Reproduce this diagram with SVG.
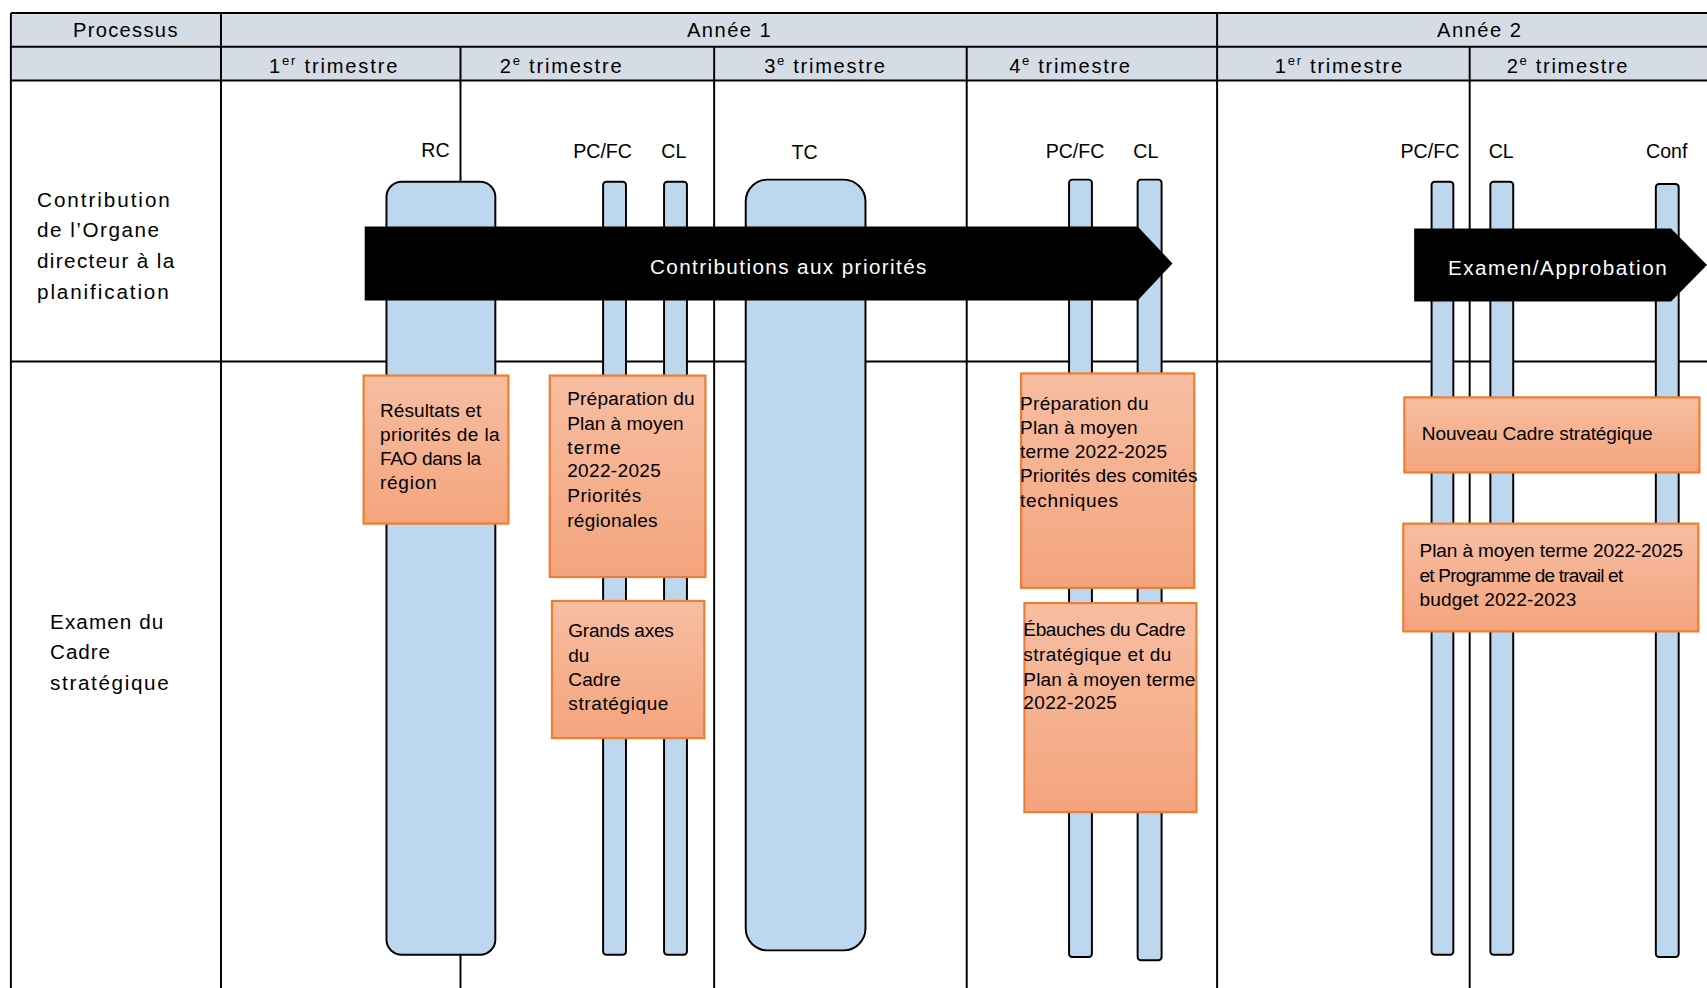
<svg xmlns="http://www.w3.org/2000/svg" width="1707" height="988" viewBox="0 0 1707 988">
<defs>
<linearGradient id="og" x1="0" y1="0" x2="0" y2="1">
<stop offset="0" stop-color="#F7BEA2"/>
<stop offset="1" stop-color="#F4A47D"/>
</linearGradient>
<style>
.t{font-family:"Liberation Sans","Open Sans",sans-serif;fill:#000;}
.h{font-size:18.5px;}
.lb{font-size:19px;}
.sl{font-size:18px;text-anchor:middle;}
.bx{font-size:17.5px;}
.w{fill:#fff;font-size:19px;}
.grid{stroke:#000;stroke-width:1.8;fill:none;}
.bar{fill:#BDD7EE;stroke:#000;stroke-width:1.8;}
.box{fill:url(#og);stroke:#ED7D31;stroke-width:2;}
.arr{fill:#000;}
</style>
</defs>
<rect x="0" y="0" width="1707" height="988" fill="#fff"/>
<g transform="scale(1.08865)">
<g id="table">
<rect x="10" y="12" width="1580" height="62" fill="#D6DCE5"/>
<path class="grid" d="M10 12H1590M10 43H1590M10 74H1590M10 332H1590M10 12V920M203 12V920M423 43V920M656 43V920M888 43V920M1118 12V920M1350 43V920"/>
<text class="t h" x="67" y="34" textLength="96">Processus</text>
<text class="t h" x="631" y="34" textLength="77">Année 1</text>
<text class="t h" x="1320" y="34" textLength="77">Année 2</text>
<text class="t h" x="247" y="67" textLength="118">1<tspan font-size="12" dy="-7">er</tspan><tspan dy="7"> trimestre</tspan></text>
<text class="t h" x="459" y="67" textLength="112">2<tspan font-size="12" dy="-7">e</tspan><tspan dy="7"> trimestre</tspan></text>
<text class="t h" x="702" y="67" textLength="111">3<tspan font-size="12" dy="-7">e</tspan><tspan dy="7"> trimestre</tspan></text>
<text class="t h" x="927" y="67" textLength="111">4<tspan font-size="12" dy="-7">e</tspan><tspan dy="7"> trimestre</tspan></text>
<text class="t h" x="1171" y="67" textLength="117">1<tspan font-size="12" dy="-7">er</tspan><tspan dy="7"> trimestre</tspan></text>
<text class="t h" x="1384" y="67" textLength="111">2<tspan font-size="12" dy="-7">e</tspan><tspan dy="7"> trimestre</tspan></text>
<text class="t lb" x="34" y="190" textLength="122">Contribution</text>
<text class="t lb" x="34" y="218" textLength="112">de l’Organe</text>
<text class="t lb" x="34" y="246" textLength="126">directeur à la</text>
<text class="t lb" x="34" y="275" textLength="121">planification</text>
<text class="t lb" x="46" y="578" textLength="104">Examen du</text>
<text class="t lb" x="46" y="605" textLength="55">Cadre</text>
<text class="t lb" x="46" y="634" textLength="109">stratégique</text>
</g>
<g id="bars">
<g id="bar-rc"><rect class="bar" x="355" y="167" width="100" height="710" rx="14"/><text class="t sl" x="400" y="144">RC</text></g>
<g id="bar-pcfc1"><rect class="bar" x="554" y="167" width="21" height="710" rx="3"/><text class="t sl" x="553.5" y="145">PC/FC</text></g>
<g id="bar-cl1"><rect class="bar" x="610" y="167" width="21" height="710" rx="3"/><text class="t sl" x="619" y="145">CL</text></g>
<g id="bar-tc"><rect class="bar" x="685" y="165" width="110" height="708" rx="20"/><text class="t sl" x="739" y="146">TC</text></g>
<g id="bar-pcfc2"><rect class="bar" x="982" y="165" width="21" height="714" rx="3"/><text class="t sl" x="987.5" y="145">PC/FC</text></g>
<g id="bar-cl2"><rect class="bar" x="1045" y="165" width="22" height="717" rx="3"/><text class="t sl" x="1052.5" y="145">CL</text></g>
<g id="bar-pcfc3"><rect class="bar" x="1315" y="167" width="20" height="710" rx="3"/><text class="t sl" x="1313.5" y="145">PC/FC</text></g>
<g id="bar-cl3"><rect class="bar" x="1369" y="167" width="21" height="710" rx="3"/><text class="t sl" x="1379" y="145">CL</text></g>
<g id="bar-conf"><rect class="bar" x="1521" y="169" width="21" height="710" rx="3"/><text class="t sl" x="1531" y="145">Conf</text></g>
</g>
<g id="arrows">
<g id="arrow-contrib"><polygon class="arr" points="335,208 1045,208 1077,242 1045,276 335,276"/><text class="t w" x="597" y="252" textLength="254">Contributions aux priorités</text></g>
<g id="arrow-examen"><polygon class="arr" points="1299,210 1535,210 1568,243.5 1535,277 1299,277"/><text class="t w" x="1330" y="253" textLength="201">Examen/Approbation</text></g>
</g>
<g id="boxes">
<g id="box1"><rect class="box" x="334" y="345" width="133" height="136"/>
<text class="t bx" x="349" y="383" textLength="93">Résultats et</text>
<text class="t bx" x="349" y="405" textLength="110">priorités de la</text>
<text class="t bx" x="349" y="427" textLength="93">FAO dans la</text>
<text class="t bx" x="349" y="449" textLength="52">région</text></g>
<g id="box2"><rect class="box" x="505" y="345" width="143" height="185"/>
<text class="t bx" x="521" y="372" textLength="117">Préparation du</text>
<text class="t bx" x="521" y="395" textLength="107">Plan à moyen</text>
<text class="t bx" x="521" y="417" textLength="49">terme</text>
<text class="t bx" x="521" y="438" textLength="86">2022-2025</text>
<text class="t bx" x="521" y="461" textLength="68">Priorités</text>
<text class="t bx" x="521" y="484" textLength="83">régionales</text></g>
<g id="box3"><rect class="box" x="507" y="552" width="140" height="126"/>
<text class="t bx" x="522" y="585" textLength="97">Grands axes</text>
<text class="t bx" x="522" y="608">du</text>
<text class="t bx" x="522" y="630" textLength="48">Cadre</text>
<text class="t bx" x="522" y="652" textLength="92">stratégique</text></g>
<g id="box4"><rect class="box" x="938" y="343" width="159" height="197"/>
<text class="t bx" x="937" y="377" textLength="118">Préparation du</text>
<text class="t bx" x="937" y="399" textLength="108">Plan à moyen</text>
<text class="t bx" x="937" y="421" textLength="135">terme 2022-2025</text>
<text class="t bx" x="937" y="443" textLength="163">Priorités des comités</text>
<text class="t bx" x="937" y="466" textLength="90">techniques</text></g>
<g id="box5"><rect class="box" x="941" y="554" width="158" height="192"/>
<text class="t bx" x="940" y="584" textLength="149">Ébauches du Cadre</text>
<text class="t bx" x="940" y="607" textLength="136">stratégique et du</text>
<text class="t bx" x="940" y="630" textLength="158">Plan à moyen terme</text>
<text class="t bx" x="940" y="651" textLength="86">2022-2025</text></g>
<g id="box6"><rect class="box" x="1290" y="365" width="271" height="69"/>
<text class="t bx" x="1306" y="404" textLength="212">Nouveau Cadre stratégique</text></g>
<g id="box7"><rect class="box" x="1289" y="481" width="271" height="99"/>
<text class="t bx" x="1304" y="512" textLength="242">Plan à moyen terme 2022-2025</text>
<text class="t bx" x="1304" y="535" textLength="187">et Programme de travail et</text>
<text class="t bx" x="1304" y="557" textLength="144">budget 2022-2023</text></g>
</g>
</g>
</svg>
